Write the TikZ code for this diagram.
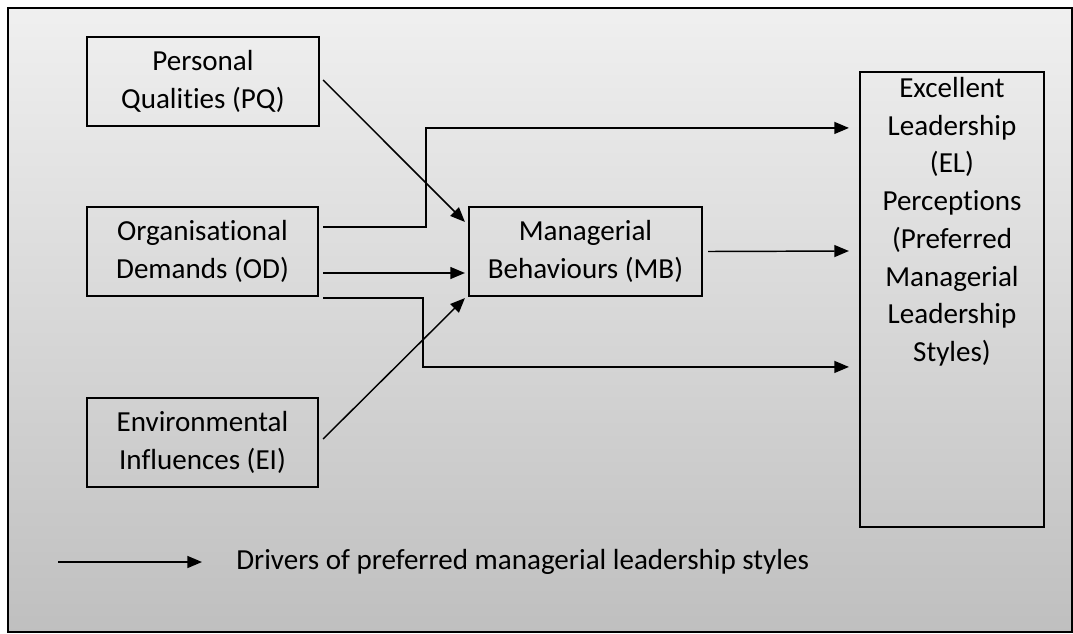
\documentclass[tikz,border=0pt]{standalone}
\usepackage{fontspec}
\setmainfont[Ligatures={NoCommon}]{Carlito}
\usetikzlibrary{calc,arrows.meta}
\begin{document}
\begin{tikzpicture}[x=0.75pt,y=-0.75pt,
  box/.style={draw=black,line width=1.6pt,inner sep=0pt,align=center,
    font=\fontsize{21.8}{28.5}\selectfont},
  conn/.style={draw=black,line width=1.1pt},
  arr/.style={conn,-{Triangle[length=11pt,width=9pt]}},
  txt/.style={font=\fontsize{21.8}{28.3}\selectfont,align=center,inner sep=0pt}]
\useasboundingbox (0,0) rectangle (1073,633);
\fill[white] (0,0) rectangle (1073,633);
\shade[top color=white!94!black,bottom color=white!75!black] (8,8) rectangle (1072,632);
\draw[line width=1.3pt] (8,8) rectangle (1072,632);
% nodes
\node[box,minimum width=232*0.75pt,minimum height=89*0.75pt] (PQ) at (203,81.5) {Personal\\Qualities (PQ)};
\node[box,minimum width=231*0.75pt,minimum height=89*0.75pt] (OD) at (202.5,251.5) {Organisational\\Demands (OD)};
\node[box,minimum width=231*0.75pt,minimum height=89*0.75pt] (EI) at (202.5,442.5) {Environmental\\Influences (EI)};
\node[box,minimum width=233*0.75pt,minimum height=89*0.75pt] (MB) at (585.5,251.5) {Managerial\\Behaviours (MB)};
\node[box,minimum width=184*0.75pt,minimum height=455*0.75pt] (EL) at (952,299.5) {};
\node[txt,anchor=north] (ELt) at ($(EL.north)+(0,6)$) {Excellent\\Leadership\\(EL)\\Perceptions\\(Preferred\\Managerial\\Leadership\\Styles)};
% connector points
\coordinate (t1) at ($(EL.north west)+(-10,57)$);
\coordinate (t3) at ($(EL.north west)+(-10,296)$);
% connectors
\draw[arr] ($(PQ.east)+(3,-1.5)$) -- ($(MB.north west)+(-3,16)$);
\draw[arr] ($(OD.east)+(4,-24.5)$) -| ($(OD.east)+(107,-24.5)$) |- (t1);
\draw[arr] ($(OD.east)+(4,21.5)$) -- ($(MB.west)+(-3,21.5)$);
\draw[arr] ($(OD.south east)+(4,1)$) -| ($(OD.south east)+(104,1)$) |- (t3);
\draw[arr] ($(EI.east)+(4,-3.5)$) -- ($(MB.south west)+(-3,1)$);
\draw[arr] ($(MB.east)+(5,0)$) -- ($(EL.west)+(-10,-48.5)$);
% legend
\coordinate (l1) at (58,562);
\coordinate (l2) at (202,562);
\draw[arr] (l1) -- (l2);
\node[txt,anchor=west] (leg) at (236,562) {Drivers of preferred managerial leadership styles};
\end{tikzpicture}
\end{document}
